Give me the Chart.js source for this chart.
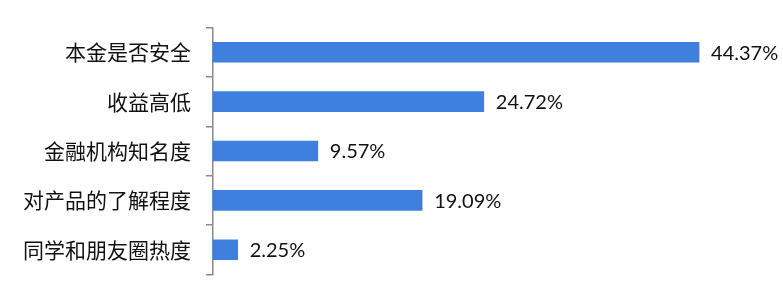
<!DOCTYPE html>
<html>
<head>
<meta charset="utf-8">
<script src="https://cdn.jsdelivr.net/npm/chart.js@4"></script>
<style>
  html, body { margin: 0; padding: 0; background: #fff; }
  #wrap { width: 783px; height: 302px; }
</style>
</head>
<body>
<div id="wrap"><canvas id="bar-chart"></canvas></div>
<script>
    // chart data
    var categories = ['本金是否安全', '收益高低', '金融机构知名度', '对产品的了解程度', '同学和朋友圈热度'];
    var values = [44.37, 24.72, 9.57, 19.09, 2.25];
    var valueLabels = ['44.37%', '24.72%', '9.57%', '19.09%', '2.25%'];

    // draws the value text to the right of each bar
    var endLabels = {
        id: 'endLabels',
        afterDatasetsDraw: function(chart) {
            var ctx = chart.ctx;
            var meta = chart.getDatasetMeta(0);
            ctx.save();
            ctx.font = '20px Lato, "Liberation Sans", sans-serif';
            ctx.fillStyle = '#111';
            ctx.textAlign = 'left';
            ctx.textBaseline = 'middle';
            meta.data.forEach(function(bar, i) {
                ctx.fillText(valueLabels[i], bar.x + 12, bar.y + 1);
            });
            ctx.restore();
        }
    };

    new Chart(document.getElementById('bar-chart'), {
        type: 'bar',
        data: {
            labels: categories,
            datasets: [{
                data: values,
                backgroundColor: '#3f80df',
                borderWidth: 0,
                barThickness: 20
            }]
        },
        options: {
            indexAxis: 'y',
            responsive: true,
            maintainAspectRatio: false,
            animation: false,
            layout: { padding: { top: 21, right: 77, bottom: 23, left: 0 } },
            plugins: {
                legend: { display: false },
                tooltip: { enabled: false }
            },
            scales: {
                x: {
                    display: false,
                    min: 0,
                    max: 45
                },
                y: {
                    afterFit: function(scale) { scale.width = 213; },
                    border: { display: true, color: '#8a8a8a', width: 1.5 },
                    grid: {
                        offset: true,
                        drawOnChartArea: false,
                        drawTicks: true,
                        tickLength: 7,
                        color: '#8a8a8a',
                        lineWidth: 1.5
                    },
                    ticks: {
                        padding: 15,
                        color: '#111',
                        font: { family: '"Noto Sans CJK SC", sans-serif', size: 21 }
                    }
                }
            }
        },
        plugins: [endLabels]
    });
</script>
</body>
</html>
